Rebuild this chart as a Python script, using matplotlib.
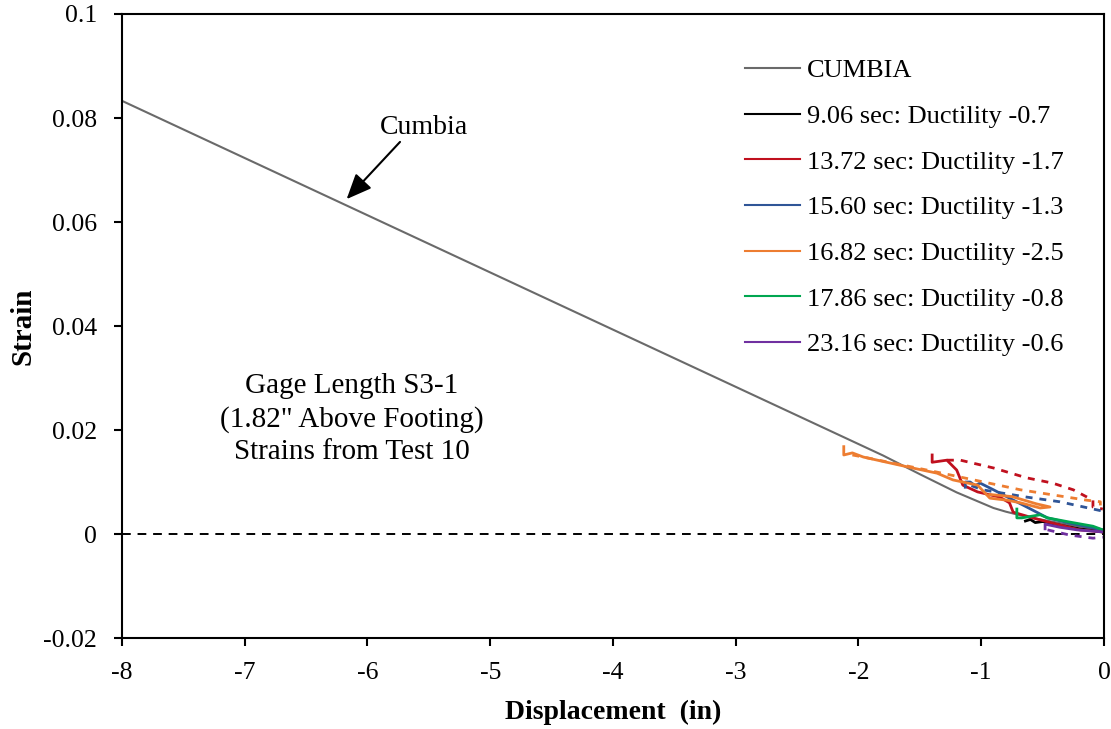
import matplotlib
matplotlib.use("Agg")
import matplotlib.pyplot as plt

plt.rcParams['font.family'] = ['Liberation Serif', 'DejaVu Serif']

# ---- data ----
cumbia_x = [-8.0, -2.3, -1.8, -1.5, -1.2, -1.0, -0.9, -0.8, -0.63, -0.36, 0.0]
cumbia_y = [0.0833, 0.0206, 0.0151, 0.0115, 0.0080, 0.0060, 0.0050, 0.0043, 0.0033, 0.0021, 0.0007]

s906_x = [-0.64, -0.60, -0.56, -0.50, -0.36, -0.20, -0.01]
s906_y = [0.0025, 0.0028, 0.0022, 0.0024, 0.0017, 0.0010, 0.0004]

s1372_x = [-1.40, -1.40, -1.28, -1.20, -1.15, -1.03, -0.85, -0.77, -0.74, -0.58, -0.42, -0.20, -0.01]
s1372_y = [0.0152, 0.0138, 0.0142, 0.0123, 0.0094, 0.0081, 0.0071, 0.0060, 0.0042, 0.0031, 0.0021, 0.0008, 0.0004]
s1372d_x = [-1.28, -1.17, -0.90, -0.63, -0.42, -0.25, -0.09, -0.09, -0.01]
s1372d_y = [0.0142, 0.0142, 0.0127, 0.0108, 0.0098, 0.0085, 0.0065, 0.0052, 0.0048]

s1560_x = [-1.13, -1.13, -1.09, -1.05, -1.01, -0.90, -0.77, -0.63, -0.46, -0.28, -0.01]
s1560_y = [0.0090, 0.0100, 0.0100, 0.0093, 0.0098, 0.0085, 0.0069, 0.0052, 0.0031, 0.0021, 0.0008]
s1560d_x = [-1.08, -0.99, -0.63, -0.36, -0.01]
s1560d_y = [0.0093, 0.0085, 0.0071, 0.0062, 0.0044]

s1682_x = [-2.12, -2.12, -2.05, -1.96, -1.77, -1.56, -1.36, -1.23, -1.15, -1.03, -0.93, -0.79,
           -0.68, -0.52, -0.44, -0.55, -0.75, -0.93]
s1682_y = [0.0168, 0.0152, 0.0156, 0.0148, 0.0138, 0.0127, 0.0117, 0.0104, 0.0100, 0.0094, 0.0069,
           0.0065, 0.0060, 0.0050, 0.0052, 0.0058, 0.0072, 0.0076]
s1682d_x = [-2.05, -1.96, -1.36, -0.68, -0.14, -0.03, -0.03]
s1682d_y = [0.0152, 0.0148, 0.0119, 0.0085, 0.0065, 0.0062, 0.0055]

s1786_x = [-0.71, -0.71, -0.67, -0.52, -0.46, -0.28, -0.09, -0.01]
s1786_y = [0.0048, 0.0031, 0.0031, 0.0037, 0.0031, 0.0023, 0.0015, 0.0008]

s2316_x = [-0.48, -0.48, -0.36, -0.22, -0.01]
s2316_y = [0.0010, 0.0019, 0.0013, 0.0008, 0.0004]
s2316d_x = [-0.46, -0.28, -0.09, -0.01]
s2316d_y = [0.0008, -0.0002, -0.0008, -0.0006]

labels = ["CUMBIA", "9.06 sec: Ductility -0.7", "13.72 sec: Ductility -1.7",
          "15.60 sec: Ductility -1.3", "16.82 sec: Ductility -2.5",
          "17.86 sec: Ductility -0.8", "23.16 sec: Ductility -0.6"]
x_ticks = [-8, -7, -6, -5, -4, -3, -2, -1, 0]
y_ticks = [-0.02, 0, 0.02, 0.04, 0.06, 0.08, 0.1]
y_ticklabels = ["-0.02", "0", "0.02", "0.04", "0.06", "0.08", "0.1"]

colors = ["#6a6a6a", "#000000", "#C0101E", "#2F5597", "#ED7D31", "#00A650", "#7030A0"]

fig = plt.figure(figsize=(11.11, 7.29), dpi=100)
ax = fig.add_axes([0.1098, 0.1248, 0.8839, 0.8560])

ax.axhline(0, color="black", lw=1.4, ls=(0, (4.5, 3.5)))

lw = 2.0
dash = (0, (2.5, 2.5))
ax.plot(cumbia_x, cumbia_y, color=colors[0], lw=1.5, label=labels[0])
ax.plot(s906_x, s906_y, color=colors[1], lw=lw, label=labels[1])
ax.plot(s1372_x, s1372_y, color=colors[2], lw=lw, label=labels[2])
ax.plot(s1372d_x, s1372d_y, color=colors[2], lw=lw, ls=dash)
ax.plot(s1560_x, s1560_y, color=colors[3], lw=lw, label=labels[3])
ax.plot(s1560d_x, s1560d_y, color=colors[3], lw=lw, ls=dash)
ax.plot(s1682_x, s1682_y, color=colors[4], lw=lw, label=labels[4])
ax.plot(s1682d_x, s1682d_y, color=colors[4], lw=lw, ls=dash)
ax.plot(s1786_x, s1786_y, color=colors[5], lw=lw, label=labels[5])
ax.plot(s2316_x, s2316_y, color=colors[6], lw=lw, label=labels[6])
ax.plot(s2316d_x, s2316d_y, color=colors[6], lw=lw, ls=dash)

ax.set_xlim(-8, 0)
ax.set_ylim(-0.02, 0.1)
ax.set_xticks(x_ticks)
ax.set_xticklabels([str(v) for v in x_ticks])
ax.set_yticks(y_ticks)
ax.set_yticklabels(y_ticklabels)
ax.tick_params(direction="out", length=6, width=1.5, labelsize=18.5)
ax.tick_params(axis="y", pad=12)
ax.tick_params(axis="x", pad=11)
for sp in ax.spines.values():
    sp.set_linewidth(1.5)

ax.set_xlabel("Displacement  (in)", fontsize=20, fontweight="bold", labelpad=12)
ax.set_ylabel("Strain", fontsize=21, fontweight="bold", labelpad=5)

ax.text(-5.54, 0.0782, "Cumbia", fontsize=20, ha="center", va="center")
ax.annotate("", xy=(-6.17, 0.0644), xytext=(-5.735, 0.0754),
            arrowprops=dict(arrowstyle="-|>,head_length=0.7,head_width=0.3", color="black",
                            lw=1.5, mutation_scale=22, shrinkA=0, shrinkB=0))

ax.text(-6.13, 0.0221, "Gage Length S3-1\n(1.82\" Above Footing)\nStrains from Test 10",
        fontsize=21, ha="center", va="center", linespacing=1.33)

leg = ax.legend(loc="upper left", bbox_to_anchor=(0.634, 0.928), frameon=False,
                fontsize=19, handlelength=2.1, handletextpad=0.25, labelspacing=0.84,
                borderpad=0, borderaxespad=0)
for h in leg.get_lines():
    h.set_linewidth(1.5)

fig.savefig("out.png", dpi=100)
